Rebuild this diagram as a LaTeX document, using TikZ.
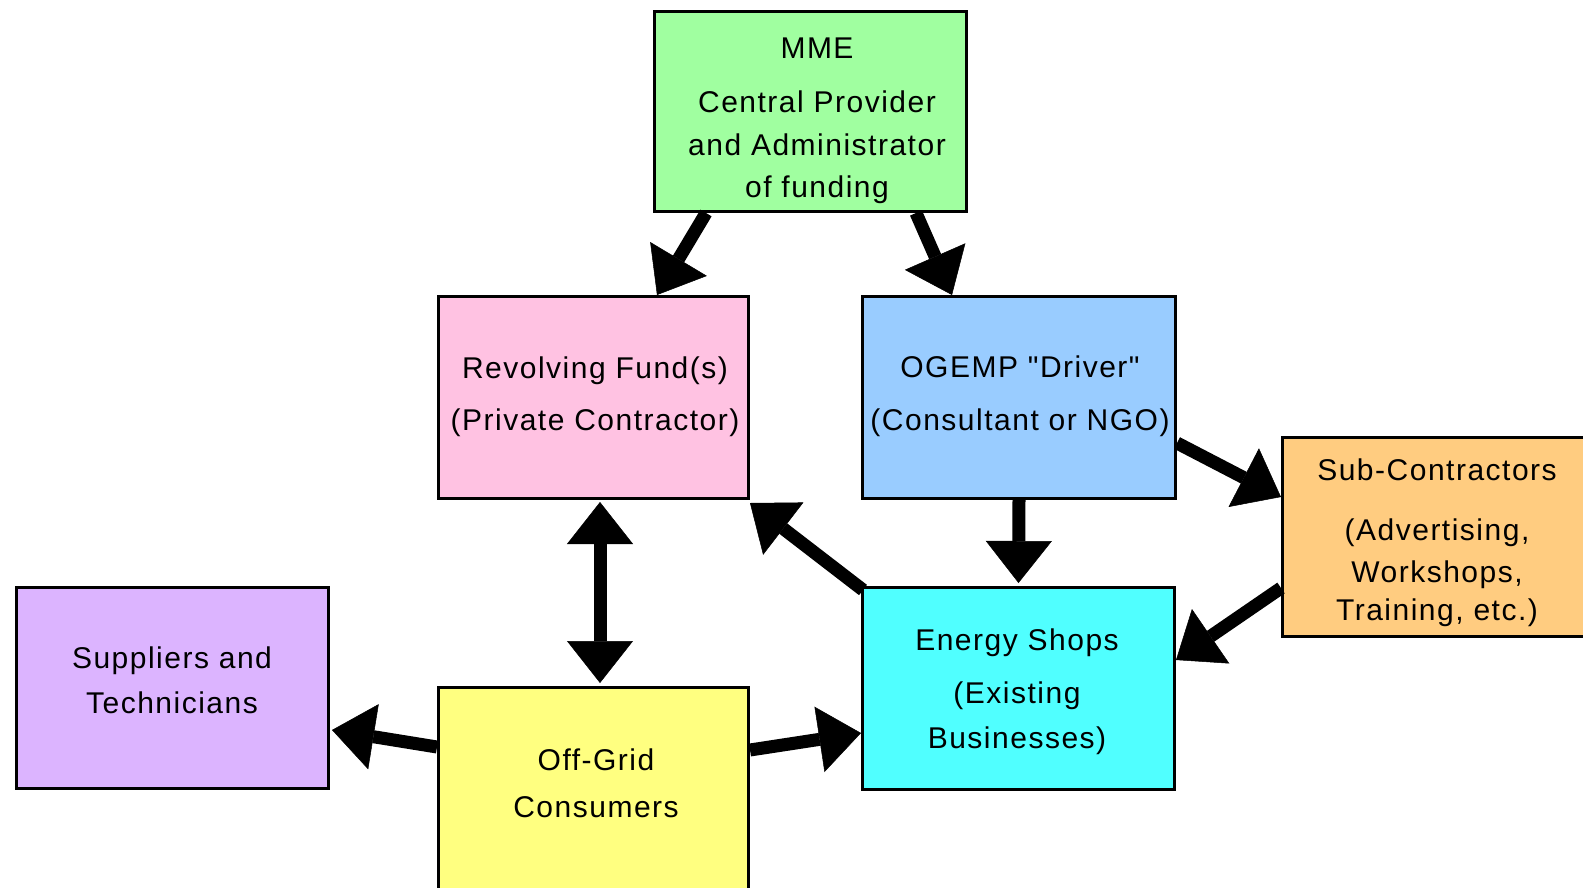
\documentclass[tikz,border=0pt]{standalone}
\usepackage{fontspec}
\setmainfont{Liberation Sans}[LetterSpace=5]
\newfontfamily\nomap{Liberation Sans}[LetterSpace=5,Ligatures=TeXOff]
\usetikzlibrary{arrows.meta}
\definecolor{cMME}{HTML}{A0FFA0}
\definecolor{cRev}{HTML}{FFC2E2}
\definecolor{cOgemp}{HTML}{99CCFF}
\definecolor{cEnergy}{HTML}{50FFFF}
\definecolor{cSub}{HTML}{FFCC80}
\definecolor{cSupp}{HTML}{DCB4FF}
\definecolor{cOff}{HTML}{FFFF80}
\begin{document}
\begin{tikzpicture}[x=1pt,y=-1pt,
  box/.style={draw=black, line width=3pt, rectangle, inner sep=0pt},
  txt/.style={anchor=base, inner sep=0pt, font=\fontsize{30}{36}\selectfont},
  arr/.style={line width=13pt, -{Triangle[width=66pt,length=42pt,line width=0.5pt]}},
  darr/.style={line width=13pt, {Triangle[width=66pt,length=42pt,line width=0.5pt]}-{Triangle[width=66pt,length=42pt,line width=0.5pt]}}]
\useasboundingbox (0,0) rectangle (1583,887);
\clip (0,0) rectangle (1583,887);
% boxes
\node[box, fill=cMME, minimum width=312pt, minimum height=200pt] (mme) at (810.5,111.5) {};
\node[box, fill=cRev, minimum width=310pt, minimum height=202pt] (rev) at (593.5,397.5) {};
\node[box, fill=cOgemp, minimum width=313pt, minimum height=202pt] (ogemp) at (1019,397.5) {};
\node[box, fill=cEnergy, minimum width=312pt, minimum height=202pt] (energy) at (1018.5,688.5) {};
\node[box, fill=cSupp, minimum width=312pt, minimum height=201pt] (supp) at (172.5,688) {};
\node[box, fill=cOff, minimum width=310pt, minimum height=215pt] (offgrid) at (593.5,795) {};
\node[box, fill=cSub, minimum width=330pt, minimum height=199pt] (sub) at (1447.5,537) {};
% texts
\node[txt] (mme1) at (817,58) {MME};
\node[txt] (mme2) at (817,112) {Central Provider};
\node[txt] (mme3) at (817,155) {and Administrator};
\node[txt] (mme4) at (817,197) {of funding};
\node[txt] (rev1) at (595,378) {Revolving Fund(s)};
\node[txt] (rev2) at (595,430) {(Private Contractor)};
\node[txt] (og1) at (1020,377) {\nomap OGEMP "Driver"};
\node[txt] (og2) at (1020,430) {(Consultant or NGO)};
\node[txt] (en1) at (1017,650) {Energy Shops};
\node[txt] (en2) at (1017,703) {(Existing};
\node[txt] (en3) at (1017,748) {Businesses)};
\node[txt] (sub1) at (1437,480) {Sub-Contractors};
\node[txt] (sub2) at (1437,540) {(Advertising,};
\node[txt] (sub3) at (1437,582) {Workshops,};
\node[txt] (sub4) at (1437,620) {Training, etc.)};
\node[txt] (sup1) at (172,668) {Suppliers and};
\node[txt] (sup2) at (172,713) {Technicians};
\node[txt] (off1) at (596,770) {Off-Grid};
\node[txt] (off2) at (596,817) {Consumers};
% arrows
\draw[arr] ([xshift=53pt]mme.south west) -- ([xshift=220pt]rev.north west);
\draw[arr] ([xshift=263pt]mme.south west) -- ([xshift=91pt]ogemp.north west);
\draw[arr] ([yshift=-148pt]ogemp.north east) -- ([yshift=-61pt]sub.north west);
\draw[arr] ([yshift=-152pt]sub.north west) -- ([yshift=-74pt]energy.north east);
\draw[arr] ([shift={(2pt,-4pt)}]energy.north west) -- ([yshift=-3pt]rev.south east);
\draw[arr] (ogemp.south) -- ([yshift=3pt]energy.north);
\draw[darr] ([xshift=163pt,yshift=-2pt]rev.south west) -- ([xshift=163pt,yshift=3pt]offgrid.north west);
\draw[arr] ([yshift=-61pt]offgrid.north west) -- ([shift={(2pt,-144pt)}]supp.north east);
\draw[arr] ([yshift=-64pt]offgrid.north east) -- ([yshift=-147pt]energy.north west);
\end{tikzpicture}
\end{document}
